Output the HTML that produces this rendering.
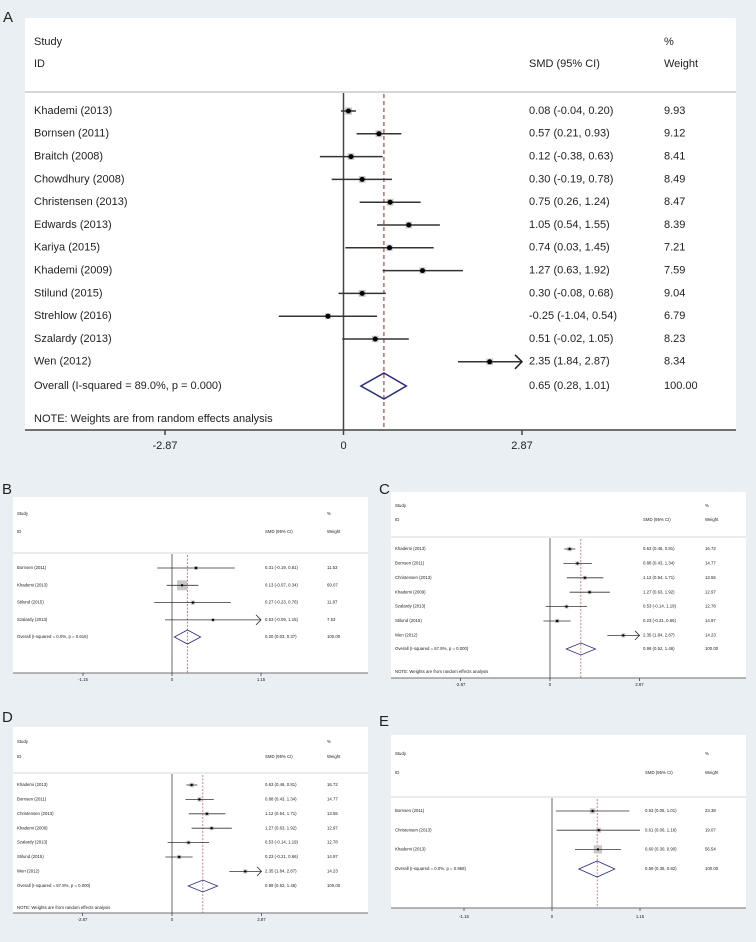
<!DOCTYPE html>
<html><head><meta charset="utf-8">
<style>
html,body{margin:0;padding:0;background:#e9eff2;}
svg{display:block;font-family:"Liberation Sans",Arial,sans-serif;}
</style></head>
<body>
<svg id="fig" width="756" height="942" viewBox="0 0 756 942" xmlns="http://www.w3.org/2000/svg">
<rect x="0" y="0" width="756" height="942" fill="#e9eff2"/>
</svg>
<script>
// ---- Panel A data ----
const aNames = ["Khademi (2013)","Bornsen (2011)","Braitch (2008)","Chowdhury (2008)","Christensen (2013)","Edwards (2013)","Kariya (2015)","Khademi (2009)","Stilund (2015)","Strehlow (2016)","Szalardy (2013)","Wen (2012)"];
const aEst = [0.08,0.57,0.12,0.30,0.75,1.05,0.74,1.27,0.30,-0.25,0.51,2.35];
const aLo = [-0.04,0.21,-0.38,-0.19,0.26,0.54,0.03,0.63,-0.08,-1.04,-0.02,1.84];
const aHi = [0.20,0.93,0.63,0.78,1.24,1.55,1.45,1.92,0.68,0.54,1.05,2.87];
const aW = [9.93,9.12,8.41,8.49,8.47,8.39,7.21,7.59,9.04,6.79,8.23,8.34];
const aOverall = [0.65,0.28,1.01];
const aOverallLabel = "Overall  (I-squared = 89.0%, p = 0.000)";
const aTicks = [-2.87,0,2.87];

// ---- Panel B data ----
const bNames = ["Bornsen (2011)","Khademi (2013)","Stilund (2015)","Szalardy (2013)"];
const bEst = [0.31,0.13,0.27,0.53];
const bLo = [-0.19,-0.07,-0.23,-0.09];
const bHi = [0.81,0.34,0.76,1.15];
const bW = [11.53,69.07,11.87,7.53];
const bOverall = [0.20,0.03,0.37];
const bOverallLabel = "Overall  (I-squared = 0.0%, p = 0.616)";
const bTicks = [-1.15,0,1.15];

// ---- Panel C / D data ----
const cNames = ["Khademi (2013)","Bornsen (2011)","Christensen (2013)","Khademi (2009)","Szalardy (2013)","Stilund (2015)","Wen (2012)"];
const cEst = [0.63,0.88,1.12,1.27,0.53,0.23,2.35];
const cLo = [0.46,0.43,0.54,0.63,-0.14,-0.21,1.84];
const cHi = [0.81,1.34,1.71,1.92,1.19,0.66,2.87];
const cW = [16.72,14.77,13.55,12.97,12.78,14.97,14.23];
const cOverall = [0.99,0.52,1.46];
const cOverallLabel = "Overall  (I-squared = 67.8%, p = 0.000)";
const cTicks = [-2.87,0,2.87];

// ---- Panel E data ----
const eNames = ["Bornsen (2011)","Christensen (2013)","Khademi (2013)"];
const eEst = [0.53,0.61,0.60];
const eLo = [0.05,0.06,0.30];
const eHi = [1.01,1.16,0.90];
const eW = [23.38,19.07,56.54];
const eOverall = [0.59,0.35,0.82];
const eOverallLabel = "Overall  (I-squared = 0.0%, p = 0.968)";
const eTicks = [-1.15,0,1.15];

const NS = "http://www.w3.org/2000/svg";
const svg = document.getElementById("fig");
function mk(tag, attrs, parent){
  const el = document.createElementNS(NS, tag);
  for (const k in attrs) el.setAttribute(k, attrs[k]);
  (parent||svg).appendChild(el);
  return el;
}
function txt(parent, x, y, s, fs, anchor){
  const t = mk("text",{x:x,y:y,"font-size":fs,fill:"#222","text-anchor":anchor||"start","dominant-baseline":"middle"},parent);
  t.textContent = s;
  return t;
}
function fmt(v){ return v.toFixed(2); }

function drawPanel(p, names, est, lo, hi, w, overall, overallLabel, ticks){
  const g = mk("g",{});
  
  
  const lab = txt(g, p.labX, p.labY, p.letter, p.labFs);
  
  
  const bg = mk("rect",{x:p.left,y:p.top,width:p.right-p.left,height:p.axisY-p.top,fill:"#ffffff"},g);
  
  
  const tmax = ticks[ticks.length-1];
  const sx = v => p.zeroX + v * p.tickPx / tmax;
  // header
  const h1 = txt(g, p.textX, p.studyY, "Study", p.fs);
  
  
  const h2 = txt(g, p.textX, p.idY, "ID", p.fs);
  
  
  const h3 = txt(g, p.smdX, p.idY, "SMD (95% CI)", p.fs);
  
  
  const h4 = txt(g, p.wX, p.studyY, "%", p.fs);
  
  
  const h5 = txt(g, p.wX, p.idY, "Weight", p.fs);
  
  
  const sep = mk("line",{x1:p.left,x2:p.right,y1:p.sepY,y2:p.sepY,stroke:"#d4d8da","stroke-width":p.sepW},g);
  
  
  // zero line & overall dashed line
  const z = mk("line",{x1:sx(0),x2:sx(0),y1:p.sepY+1,y2:p.axisY,stroke:"#444","stroke-width":p.lw},g);
  
  
  const d = mk("line",{x1:sx(overall[0]),x2:sx(overall[0]),y1:p.sepY+2,y2:p.axisY,stroke:"#a3282c","stroke-width":p.lw*0.7,"stroke-dasharray":p.dash},g);
  
  
  // rows
  for (let i=0;i<names.length;i++){
    const y = p.rowY0 + i*p.rowStep;
    const n = txt(g, p.textX, y, names[i], p.fs);
    
    
    const s = p.sqK*Math.sqrt(w[i]);
    const sq = mk("rect",{x:sx(est[i])-s/2,y:y-s/2,width:s,height:s,fill:"#c8c8c8"},g);
    
    
    const loC = Math.max(lo[i], -tmax), hiC = Math.min(hi[i], tmax);
    const ci = mk("line",{x1:sx(loC),x2:sx(hiC),y1:y,y2:y,stroke:"#333","stroke-width":p.lw},g);
    
    
    if (hi[i] > tmax - 0.001 && p.arrows){
      const ah = p.arrowH;
      const ar = mk("polyline",{points:(sx(tmax)-ah)+","+(y-ah)+" "+sx(tmax)+","+y+" "+(sx(tmax)-ah)+","+(y+ah),fill:"none",stroke:"#222","stroke-width":p.lw},g);
      
      
    }
    const dot = mk("circle",{cx:sx(est[i]),cy:y,r:p.dotR,fill:"#000"},g);
    
    
    const v = txt(g, p.smdX, y, fmt(est[i])+" ("+fmt(lo[i])+", "+fmt(hi[i])+")", p.fs);
    
    
    const wt = txt(g, p.wX, y, fmt(w[i]), p.fs);
    
    
  }
  // overall
  const oy = p.overallY;
  const ol = txt(g, p.textX, oy, overallLabel, p.fs);
  
  
  const dm = mk("polygon",{points:sx(overall[1])+","+oy+" "+sx(overall[0])+","+(oy-p.diaH)+" "+sx(overall[2])+","+oy+" "+sx(overall[0])+","+(oy+p.diaH),fill:"none",stroke:"#2a2a80","stroke-width":p.lw},g);
  
  
  const ov = txt(g, p.smdX, oy, fmt(overall[0])+" ("+fmt(overall[1])+", "+fmt(overall[2])+")", p.fs);
  
  
  const ow = txt(g, p.wX, oy, "100.00", p.fs);
  
  
  if (p.noteY){
    const nt = txt(g, p.textX, p.noteY, "NOTE: Weights are from random effects analysis", p.fs);
    
    
  }
  // axis
  const ax = mk("line",{x1:p.left,x2:p.right,y1:p.axisY,y2:p.axisY,stroke:"#444","stroke-width":p.lw},g);
  
  
  for (const t of ticks){
    const tk = mk("line",{x1:sx(t),x2:sx(t),y1:p.axisY,y2:p.axisY+p.tickLen,stroke:"#444","stroke-width":p.lw},g);
    
    
    const tl = txt(g, sx(t), p.tickLabY, t===0?"0":fmt(t), p.fs, "middle");
    
    
  }
}

drawPanel({id:"panel-a",letter:"A",labX:3,labY:18,labFs:15,left:25,right:736,top:18,textX:34,smdX:529,wX:664,
  studyY:42,idY:64,sepY:92,sepW:2,rowY0:111,rowStep:22.8,overallY:386,noteY:419,axisY:430,tickLabY:446,tickLen:5,
  zeroX:343.5,tickPx:178.5,fs:11,lw:1.5,dash:"4,3",sqK:2.3,dotR:2.5,diaH:13,arrowH:7,arrows:true},
  aNames,aEst,aLo,aHi,aW,aOverall,aOverallLabel,aTicks);

drawPanel({id:"panel-b",letter:"B",labX:2,labY:490,labFs:15,left:13,right:368,top:497,textX:17,smdX:265,wX:327,
  studyY:514,idY:532,sepY:553,sepW:1,rowY0:568,rowStep:17.3,overallY:637,noteY:null,axisY:673,tickLabY:680,tickLen:3,
  zeroX:172,tickPx:89,fs:4.3,lw:0.8,dash:"2,1.5",sqK:1.2,dotR:1.2,diaH:7,arrowH:5,arrows:true},
  bNames,bEst,bLo,bHi,bW,bOverall,bOverallLabel,bTicks);

drawPanel({id:"panel-c",letter:"C",labX:379,labY:490,labFs:15,left:391,right:746,top:492,textX:395,smdX:643,wX:705,
  studyY:506,idY:520,sepY:537,sepW:1,rowY0:549,rowStep:14.4,overallY:649,noteY:672,axisY:678,tickLabY:685,tickLen:3,
  zeroX:550,tickPx:89.5,fs:4.3,lw:0.8,dash:"2,1.5",sqK:1.1,dotR:1.2,diaH:6,arrowH:4.5,arrows:true},
  cNames,cEst,cLo,cHi,cW,cOverall,cOverallLabel,cTicks);

drawPanel({id:"panel-d",letter:"D",labX:2,labY:718,labFs:15,left:13,right:368,top:727,textX:17,smdX:265,wX:327,
  studyY:742,idY:757,sepY:773,sepW:1,rowY0:785,rowStep:14.4,overallY:886,noteY:908,axisY:913,tickLabY:920,tickLen:3,
  zeroX:172,tickPx:89.5,fs:4.3,lw:0.8,dash:"2,1.5",sqK:1.1,dotR:1.2,diaH:6,arrowH:4.5,arrows:true},
  cNames,cEst,cLo,cHi,cW,cOverall,cOverallLabel,cTicks);

drawPanel({id:"panel-e",letter:"E",labX:379,labY:722,labFs:15,left:391,right:746,top:735,textX:395,smdX:645,wX:705,
  studyY:754,idY:773,sepY:797,sepW:1,rowY0:811,rowStep:19.2,overallY:869,noteY:null,axisY:908,tickLabY:917,tickLen:3,
  zeroX:552,tickPx:88,fs:4.3,lw:0.8,dash:"2,1.5",sqK:1.1,dotR:1.2,diaH:8,arrowH:4.5,arrows:false},
  eNames,eEst,eLo,eHi,eW,eOverall,eOverallLabel,eTicks);
</script>
</body></html>
